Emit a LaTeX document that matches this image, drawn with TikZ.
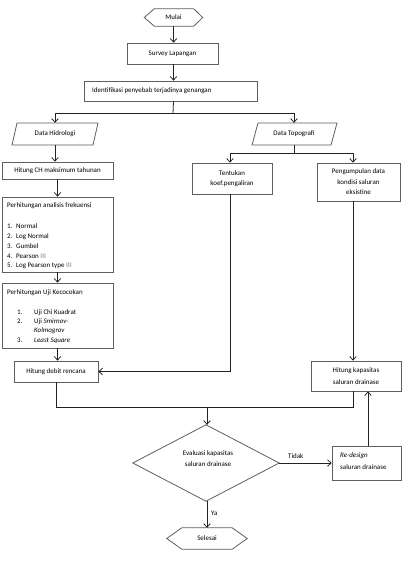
\documentclass[tikz,border=0pt]{standalone}
\usepackage{fontspec}
\setmainfont{Carlito}
\usetikzlibrary{arrows.meta,calc}
\definecolor{bordercol}{RGB}{95,95,95}
\definecolor{linecol}{RGB}{35,35,35}
\definecolor{romcol}{RGB}{165,165,165}
\begin{document}
\begin{tikzpicture}[x=1bp,y=-1bp,
  box/.style={draw=bordercol, line width=0.8bp, rectangle, inner sep=0pt},
  ghost/.style={rectangle, inner sep=0pt},
  shapeline/.style={draw=bordercol, line width=0.8bp, line join=miter},
  txt/.style={font=\fontsize{7}{10.5}\selectfont, inner sep=0pt},
  conn/.style={draw=linecol, line width=0.8bp},
  arr/.style={conn, -{Straight Barb[length=3.5bp,width=6.5bp]}}]
\path[use as bounding box, fill=white] (0,0) rectangle (402,565);

% Mulai
\node[ghost, txt, minimum width=58bp, minimum height=17bp] (mulai) at (173.5,17.5) {Mulai};
\draw[shapeline] (mulai.west) -- ($(mulai.north west)+(10,0)$) -- ($(mulai.north east)+(-9,0)$) -- (mulai.east) -- ($(mulai.south east)+(-9,0)$) -- ($(mulai.south west)+(10,0)$) -- cycle;

% Survey
\node[box, txt, minimum width=91bp, minimum height=21bp] (survey) at (172.5,53.5) {Survey Lapangan};
% Identifikasi
\node[box, minimum width=173bp, minimum height=20bp] (ident) at (170.5,91) {};
\node[txt, anchor=west] (identtxt) at (92,91) {Identifikasi penyebab terjadinya genangan};

\draw[arr] (mulai.south) -- (mulai.south |- survey.north);
\draw[arr] (mulai.south |- survey.south) -- (mulai.south |- ident.north);

% Data Hidrologi / Topografi
\node[ghost, txt, minimum width=80bp, minimum height=22bp] (hidro) at (55,134) {Data Hidrologi};
\draw[shapeline] (17,123) -- (98,123) -- (93,145) -- (12,145) -- cycle;
\node[ghost, txt, minimum width=79bp, minimum height=22bp] (topo) at (294,134) {Data Topografi};
\draw[shapeline] (258,123) -- (337,123) -- (331,145) -- (252,145) -- cycle;

\coordinate (split) at (173,113.5);
\draw[conn] (mulai.south |- ident.south) -- (split);
\draw[arr] (split) -| (hidro.north);
\draw[arr] (split) -| (topo.north);

% Left column
\node[box, txt, minimum width=111bp, minimum height=17bp] (hitungch) at (57.5,170.5) {Hitung CH maksimum tahunan};
\node[box, minimum width=111bp, minimum height=75bp] (frek) at (57.5,234.5) {};
\node[txt, anchor=west] (frek0) at (7,206) {Perhitungan analisis frekuensi};
\node[txt, anchor=west] (frek1) at (7,226) {\makebox[9bp][l]{1.}Normal};
\node[txt, anchor=west] (frek2) at (7,236.5) {\makebox[9bp][l]{2.}Log Normal};
\node[txt, anchor=west] (frek3) at (7,246.5) {\makebox[9bp][l]{3.}Gumbel};
\node[txt, anchor=west] (frek4) at (7,256) {\makebox[9bp][l]{4.}Pearson \textcolor{romcol}{\textbf{III}}};
\node[txt, anchor=west] (frek5) at (7,266) {\makebox[9bp][l]{5.}Log Pearson type \textcolor{romcol}{\textbf{III}}};

\node[box, minimum width=111bp, minimum height=65bp] (uji) at (57.5,315.5) {};
\node[txt, anchor=west] (uji0) at (7,293) {Perhitungan Uji Kecocokan};
\node[txt, anchor=west] (uji1) at (17,313) {\makebox[17bp][l]{1.}Uji Chi Kuadrat};
\node[txt, anchor=west] (uji2) at (17,322) {\makebox[17bp][l]{2.}Uji \textit{Smirnov-}};
\node[txt, anchor=west] (uji3) at (34,331) {\textit{Kolmogrov}};
\node[txt, anchor=west] (uji4) at (17,341) {\makebox[17bp][l]{3.}\textit{Least Square}};

\node[box, txt, minimum width=84bp, minimum height=21bp] (debit) at (56,371.5) {Hitung debit rencana};

\draw[arr] (hidro.south) -- (hidro.south |- hitungch.north);
\draw[arr] (hitungch.south) -- (frek.north);
\draw[arr] (frek.south) -- (uji.north);
\draw[arr] (uji.south) -- (uji.south |- debit.north);

% Right columns
\node[box, txt, align=center, minimum width=80bp, minimum height=31bp] (koef) at (232,178.5) {Tentukan\\koef.pengaliran};
\node[box, txt, align=center, minimum width=83bp, minimum height=38bp] (peng) at (358.5,182) {Pengumpulan data\\kondisi saluran\\eksistine};
\node[box, txt, align=center, font=\fontsize{7}{12.5}\selectfont, minimum width=90bp, minimum height=30bp] (kap) at (356,376) {Hitung kapasitas\\saluran drainase};

\coordinate (tsplit) at (293,153);
\coordinate (kx) at (230,0);
\coordinate (px) at (353,0);
\coordinate (rx) at (368,0);
\draw[conn] (topo.south) -- (topo.south |- tsplit);
\draw[arr] (tsplit) -| (kx |- koef.north);
\draw[arr] (tsplit) -| (px |- peng.north);
\draw[arr] (kx |- koef.south) -- (kx |- debit.east) -- (debit.east);
\draw[arr] (px |- peng.south) -- (px |- kap.north);

% Evaluation
\coordinate (join) at (207,407.5);
\draw[conn] (debit.south) -- (debit.south |- join) -- (px |- join) -- (px |- kap.south);

\node[ghost, minimum width=146bp, minimum height=76bp] (eval) at (206,463) {};
\draw[shapeline] (eval.north) -- (eval.east) -- (eval.south) -- (eval.west) -- cycle;
\node[txt, align=center] (evaltxt) at (208,458.5) {Evaluasi kapasitas\\saluran drainase};
\draw[arr] (join) -- (join |- eval.north);

\node[box, minimum width=69bp, minimum height=34bp] (redesign) at (366.5,463) {};
\node[txt, anchor=west] (red1) at (340,456) {\textit{Re-design}};
\node[txt, anchor=west] (red2) at (340,467) {saluran drainase};

\draw[arr] (eval.east) -- (redesign.west);
\node[txt, anchor=west] (tidak) at (288,456) {Tidak};
\draw[arr] (rx |- redesign.north) -- (rx |- kap.south);

\node[ghost, txt, minimum width=80bp, minimum height=21bp] (selesai) at (207,538.5) {Selesai};
\draw[shapeline] (selesai.west) -- ($(selesai.north west)+(15,0)$) -- ($(selesai.north east)+(-15,0)$) -- (selesai.east) -- ($(selesai.south east)+(-15,0)$) -- ($(selesai.south west)+(15,0)$) -- cycle;
\draw[arr] (eval.south -| selesai.north) -- (selesai.north);
\node[txt, anchor=west] (ya) at (211,513) {Ya};
\end{tikzpicture}
\end{document}
